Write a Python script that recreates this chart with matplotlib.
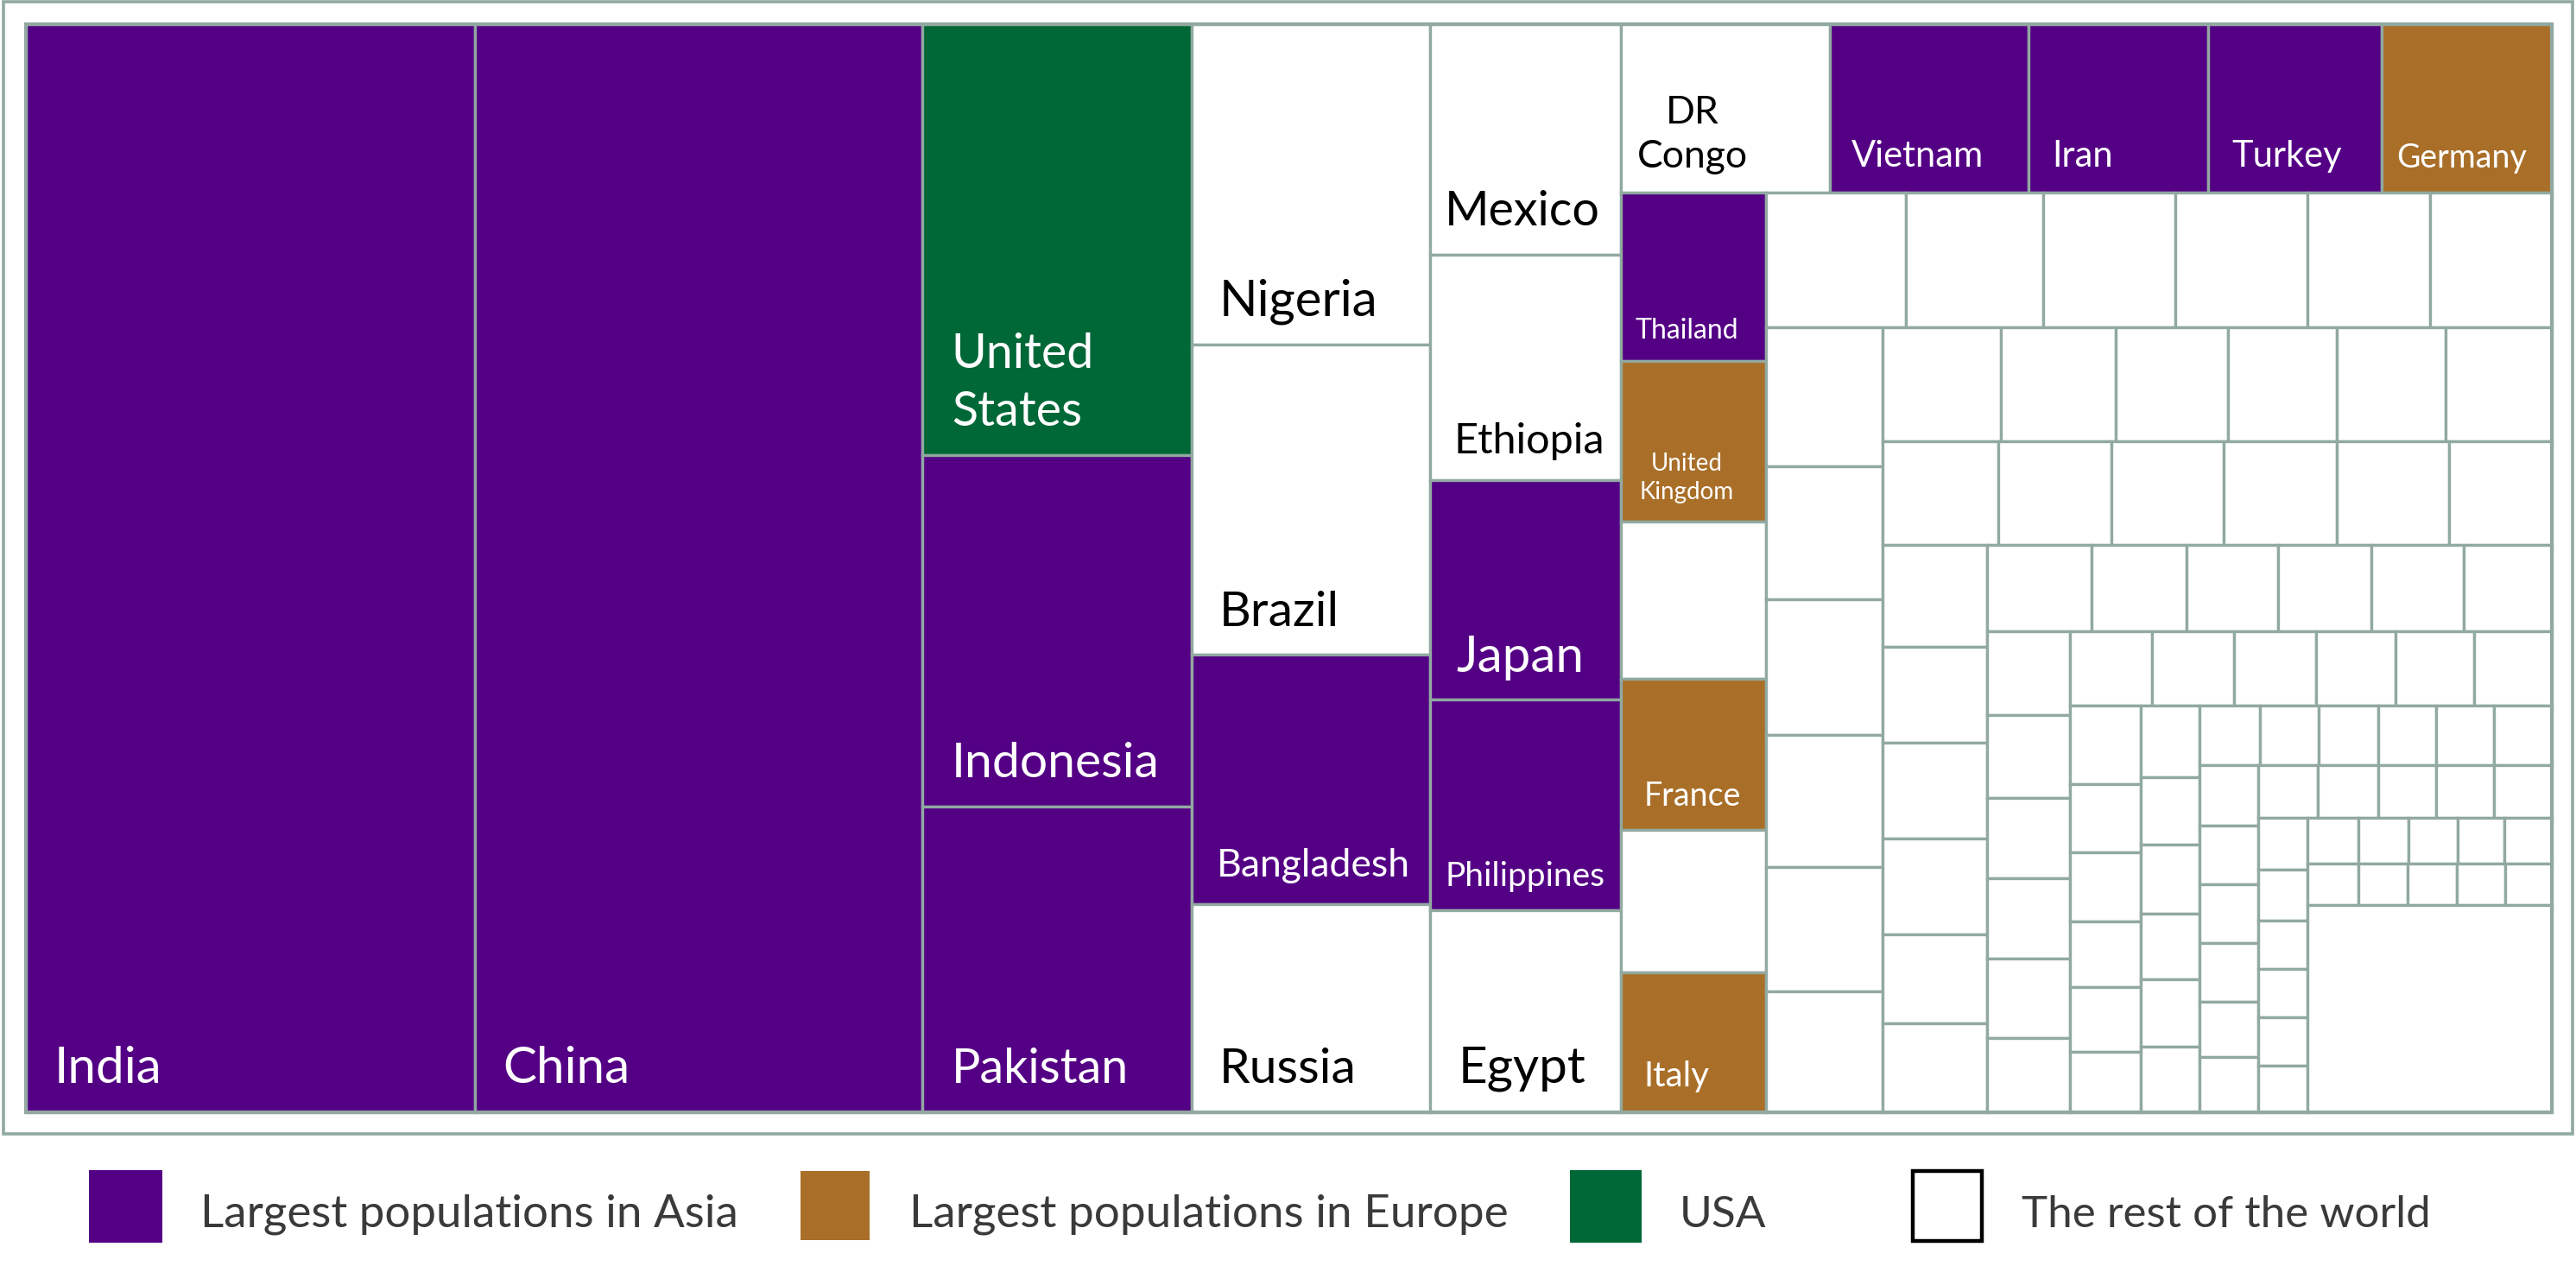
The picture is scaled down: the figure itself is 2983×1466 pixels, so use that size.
import matplotlib
matplotlib.use("Agg")
import matplotlib.pyplot as plt
from matplotlib.patches import Rectangle

# ---- data: populations in millions, grouped by treemap strip
strip_dirs = ["v", "v", "v", "v", "v", "h", "v", "h", "v", "h", "h", "v",
              "h", "v", "h", "v", "v", "h", "v", "h", "v", "h", "h"]
strip_values = [
    [1421],
    [1416],
    [337, 275, 239],
    [222, 215, 173, 144],
    [128, 125, 122, 117, 112],
    [102, 97, 88, 85, 83],
    [71, 68, 66, 64, 60, 59],
    [55, 54, 52, 52, 48, 48],
    [47, 45, 46, 45, 42, 41],
    [39, 38, 37, 36, 36, 35],
    [35, 34, 34, 34, 34, 31],
    [31, 29, 29, 29, 27, 27],
    [26.2, 23.7, 22.9, 23.3, 22.9, 22.1],
    [20.4, 20.0, 19.5, 19.3, 19.2, 18.0],
    [17.7, 17.7, 17.7, 17.3, 17.0, 16.7],
    [16.2, 14.0, 14.1, 13.4, 13.2, 12.4],
    [12.3, 11.7, 11.8, 11.3, 11.5, 11.3],
    [10.6, 10.3, 10.4, 10.1, 10.2, 10.1],
    [10.2, 10.0, 10.0, 10.0, 9.3, 9.4],
    [9.1, 9.1, 8.8, 8.8, 8.7],
    [7.5, 7.4, 7.1, 6.9, 7.0, 6.8],
    [6.8, 6.7, 6.5, 6.3, 6.3],
    [6.1, 5.9, 5.9, 5.8, 5.6],
]
rest_value = 147.4

strip_names = [
    ["India"],
    ["China"],
    ["United\nStates", "Indonesia", "Pakistan"],
    ["Nigeria", "Brazil", "Bangladesh", "Russia"],
    ["Mexico", "Ethiopia", "Japan", "Philippines", "Egypt"],
    ["DR\nCongo", "Vietnam", "Iran", "Turkey", "Germany"],
    ["Thailand", "United\nKingdom", "", "France", "", "Italy"],
]

asia = ["India", "China", "Indonesia", "Pakistan", "Bangladesh", "Japan",
        "Philippines", "Vietnam", "Iran", "Turkey", "Thailand"]
europe = ["Germany", "United\nKingdom", "France", "Italy"]
usa = ["United\nStates"]

legend_labels = ["Largest populations in Asia", "Largest populations in Europe",
                 "USA", "The rest of the world"]

# ---- styles
PURPLE = "#540085"
BROWN = "#A96F29"
GREEN = "#006837"
EDGE = "#91A9A1"
FONT = "Lato"
W, H = 2983, 1466
S = W / 1568

# name: fontsize, dx, dy, line spacing, centred
label_style = {
    "India": (42, 17, 18, 0, False),
    "China": (42, 17, 18, 0, False),
    "United\nStates": (40, 17.5, 18, 35, False),
    "Indonesia": (41, 17.5, 18, 0, False),
    "Pakistan": (40, 17.5, 18, 0, False),
    "Nigeria": (42, 16.5, 17.5, 0, False),
    "Brazil": (41, 16.5, 17.5, 0, False),
    "Bangladesh": (32, 15, 17, 0, False),
    "Russia": (41, 16.5, 18, 0, False),
    "Mexico": (40, 9, 18, 0, False),
    "Ethiopia": (35, 14.5, 16, 0, False),
    "Japan": (42, 16, 17, 0, False),
    "Philippines": (28, 9, 15, 0, False),
    "Egypt": (42, 17, 18, 0, False),
    "DR\nCongo": (32, 43.5, 15, 27, True),
    "Vietnam": (30, 13, 15.5, 0, False),
    "Iran": (30, 14.5, 15.5, 0, False),
    "Turkey": (30, 14.5, 15.5, 0, False),
    "Germany": (27, 9, 15, 0, False),
    "Thailand": (23, 8.5, 13.5, 0, False),
    "United\nKingdom": (20, 40, 14, 17, True),
    "France": (27, 14, 15, 0, False),
    "Italy": (29, 14, 16, 0, False),
}


def colour_of(name):
    if name in asia:
        return PURPLE
    if name in europe:
        return BROWN
    if name in usa:
        return GREEN
    return "white"


fig = plt.figure(figsize=(W / 100, H / 100), dpi=100)
ax = fig.add_axes([0, 0, 1, 1])
ax.set_xlim(0, W)
ax.set_ylim(H, 0)
ax.axis("off")

# outer frame
ax.add_patch(Rectangle((4, 2), 2975, 1311, fc="white", ec=EDGE, lw=2.6))

# treemap region
X0, Y0, X1, Y1 = 30.0, 28.0, 2955.0, 1288.0
x, y, w, h = X0, Y0, X1 - X0, Y1 - Y0
remaining = sum(sum(s) for s in strip_values) + rest_value


def cell(cx, cy, cw, ch, name=""):
    ax.add_patch(Rectangle((cx, cy), cw, ch, fc=colour_of(name), ec=EDGE, lw=2.4))
    if not name:
        return
    fs, dx, dy, lh, centred = label_style[name]
    tc = "black" if colour_of(name) == "white" else "white"
    for k, line in enumerate(reversed(name.split("\n"))):
        ax.text(cx + dx * S, cy + ch - (dy + k * lh) * S, line, fontsize=fs,
                family=FONT, color=tc, va="baseline",
                ha="center" if centred else "left")


for i, (d, vals) in enumerate(zip(strip_dirs, strip_values)):
    names = strip_names[i] if i < len(strip_names) else [""] * len(vals)
    frac = sum(vals) / remaining
    if d == "v":
        sw = w * frac
        cy = y
        for v, n in zip(vals, names):
            ch = h * v / sum(vals)
            cell(x, cy, sw, ch, n)
            cy += ch
        x += sw
        w -= sw
    else:
        sh = h * frac
        cx = x
        for v, n in zip(vals, names):
            cw = w * v / sum(vals)
            cell(cx, y, cw, sh, n)
            cx += cw
        y += sh
        h -= sh
    remaining -= sum(vals)
cell(x, y, w, h)

ax.add_patch(Rectangle((X0, Y0), X1 - X0, Y1 - Y0, fc="none", ec=EDGE, lw=3.0))

# legend
swatches = [(103, 1355, 85, 84, PURPLE, "none", 0),
            (927, 1356, 80, 80, BROWN, "none", 0),
            (1818, 1355, 83, 84, GREEN, "none", 0),
            (2215, 1356, 80, 81, "white", "black", 3.2)]
text_x = [232, 1053, 1945, 2341]
legend_sizes = [38.1, 38.2, 37, 36.8]
for (sx, sy, sw, sh, fc, ec, lw), tx, lab, fs in zip(swatches, text_x, legend_labels, legend_sizes):
    ax.add_patch(Rectangle((sx, sy), sw, sh, fc=fc, ec=ec, lw=lw))
    ax.text(tx, 1421, lab, fontsize=fs, family=FONT, color="#3a3a3a", va="baseline", ha="left")

fig.savefig("out.png", dpi=100, facecolor="white")
